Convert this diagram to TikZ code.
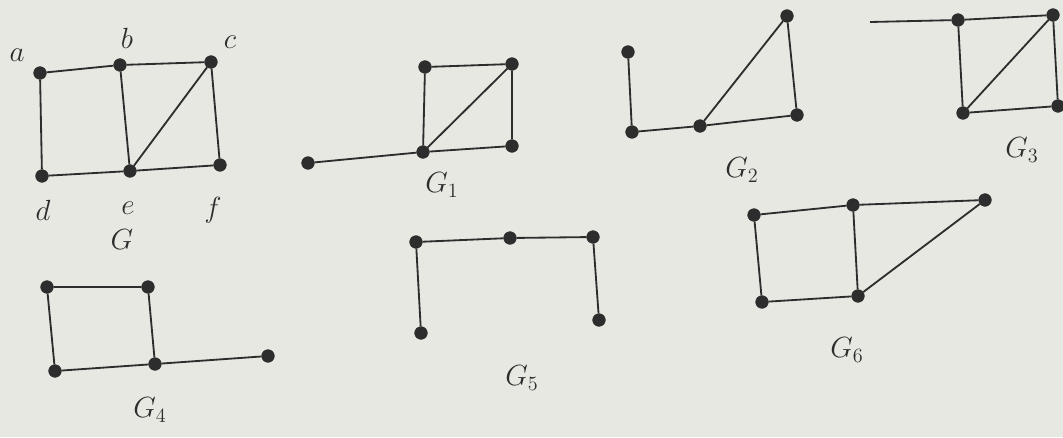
\documentclass[tikz,border=0pt]{standalone}
\usepackage{tikz}
\usetikzlibrary{positioning}
\definecolor{paper}{RGB}{232,232,226}
\definecolor{ink}{RGB}{45,45,45}
\tikzset{
  vtx/.style   = {draw=ink, fill=ink, circle, inner sep=0pt, minimum size=9pt},
  edge/.style  = {draw=ink, line width=1.3pt},
  vname/.style = {text=ink, font=\fontsize{20}{24}\selectfont},
  glabel/.style= {text=ink, font=\fontsize{22}{26}\selectfont},
}
\begin{document}
\begin{tikzpicture}[x=0.025cm, y=-0.025cm]
\fill[paper] (0,0) rectangle (1063,437);
\useasboundingbox (0,0) rectangle (1063,437);
% ---------------- G ----------------
\node[vtx] (a) at (40,73) {};
\node[vtx] (b) at (120,65) {};
\node[vtx] (c) at (211,62) {};
\node[vtx] (d) at (42,176) {};
\node[vtx] (e) at (130,171) {};
\node[vtx] (f) at (220,165) {};
\draw[edge] (a) -- (b) -- (c) -- (f) -- (e) -- (d) -- (a);
\draw[edge] (b) -- (e) -- (c);
\node[vname] (la) at (17,55) {$a$};
\node[vname] (lb) at (127,38) {$b$};
\node[vname] (lc) at (230,42) {$c$};
\node[vname] (ld) at (43,210) {$d$};
\node[vname] (le) at (128,208) {$e$};
\node[vname] (lf) at (213,210) {$f$};
\node[glabel] (gG) at (122,240) {$G$};
% ---------------- G1 ----------------
\node[vtx] (p1) at (308,163) {};
\node[vtx] (q1) at (423,152) {};
\node[vtx] (r1) at (425,67) {};
\node[vtx] (s1) at (512,64) {};
\node[vtx] (t1) at (512,146) {};
\draw[edge] (p1) -- (q1) -- (r1) -- (s1) -- (t1) -- (q1) -- (s1);
\node[glabel] (g1) at (442,185) {$G_1$};
% ---------------- G2 ----------------
\node[vtx] (p2) at (628,52) {};
\node[vtx] (q2) at (632,132) {};
\node[vtx] (r2) at (700,126) {};
\node[vtx] (s2) at (787,16) {};
\node[vtx] (t2) at (797,115) {};
\draw[edge] (p2) -- (q2) -- (r2) -- (s2) -- (t2) -- (r2);
\node[glabel] (g2) at (742,170) {$G_2$};
% ---------------- G3 ----------------
\coordinate (p3) at (870,22);
\node[vtx] (q3) at (958,20) {};
\node[vtx] (r3) at (1053,15) {};
\node[vtx] (s3) at (963,113) {};
\node[vtx] (t3) at (1058,106) {};
\draw[edge] (p3) -- (q3) -- (r3) -- (t3) -- (s3) -- (q3);
\draw[edge] (s3) -- (r3);
\node[glabel] (g3) at (1022,150) {$G_3$};
% ---------------- G4 ----------------
\node[vtx] (p4) at (47,287) {};
\node[vtx] (q4) at (148,287) {};
\node[vtx] (r4) at (55,371) {};
\node[vtx] (s4) at (155,364) {};
\node[vtx] (t4) at (268,356) {};
\draw[edge] (p4) -- (q4) -- (s4) -- (r4) -- (p4);
\draw[edge] (s4) -- (t4);
\node[glabel] (g4) at (150,410) {$G_4$};
% ---------------- G5 ----------------
\node[vtx] (p5) at (416,242) {};
\node[vtx] (q5) at (510,238) {};
\node[vtx] (r5) at (593,237) {};
\node[vtx] (s5) at (421,333) {};
\node[vtx] (t5) at (599,320) {};
\draw[edge] (s5) -- (p5) -- (q5) -- (r5) -- (t5);
\node[glabel] (g5) at (522,378) {$G_5$};
% ---------------- G6 ----------------
\node[vtx] (p6) at (754,215) {};
\node[vtx] (q6) at (853,205) {};
\node[vtx] (r6) at (985,200) {};
\node[vtx] (s6) at (762,302) {};
\node[vtx] (t6) at (858,296) {};
\draw[edge] (p6) -- (q6) -- (r6) -- (t6) -- (s6) -- (p6);
\draw[edge] (q6) -- (t6);
\node[glabel] (g6) at (847,350) {$G_6$};
\end{tikzpicture}
\end{document}
